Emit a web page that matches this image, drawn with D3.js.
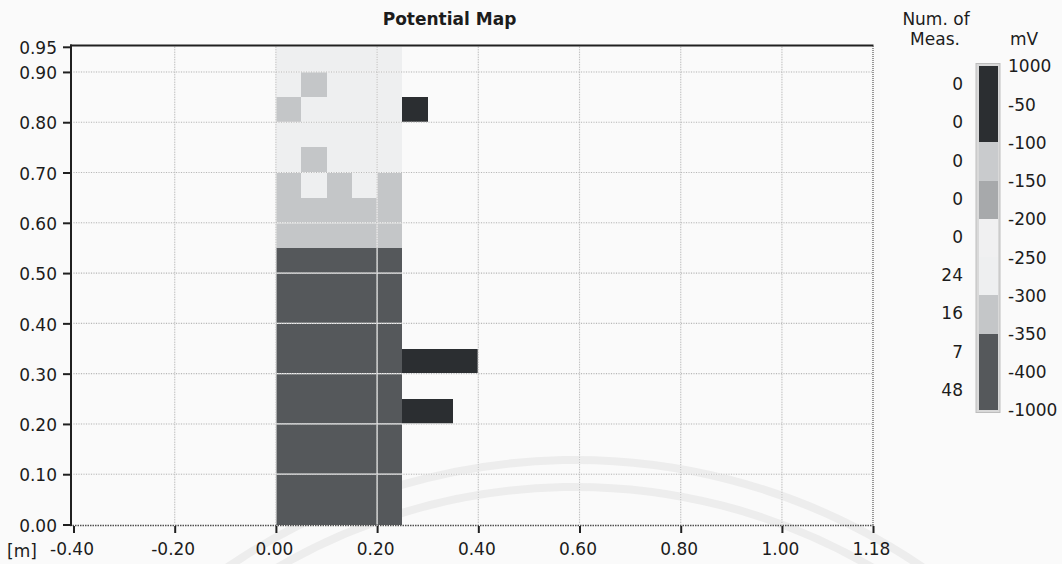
<!DOCTYPE html>
<html>
<head>
<meta charset="utf-8">
<script src="https://cdn.jsdelivr.net/npm/d3@7"></script>
<style>
  html, body { margin: 0; padding: 0; background: #fafafa; }
  svg { display: block; }
  text { font-family: "DejaVu Sans", Verdana, sans-serif; fill: #1c1c1c; }
</style>
</head>
<body>
<svg id="chart" width="1062" height="564"></svg>
<script>
// ---- measurement grid (metres) ----
const cellSize = 0.05;
const cellX = [0.00, 0.05, 0.10, 0.15, 0.20];               // left edge of each column
const cellY = [0.90, 0.85, 0.80, 0.75, 0.70, 0.65, 0.60, 0.55, 0.50,
               0.45, 0.40, 0.35, 0.30, 0.25, 0.20, 0.15, 0.10, 0.05, 0.00]; // bottom edge of each row

// potential in mV, one row per cellY entry, one column per cellX entry
const potential = [
  [-275, -275, -275, -275, -275],
  [-275, -325, -275, -275, -275],
  [-325, -275, -275, -275, -275],
  [-275, -275, -275, -275, -275],
  [-275, -325, -275, -275, -275],
  [-325, -275, -325, -275, -325],
  [-325, -325, -325, -325, -325],
  [-325, -325, -325, -325, -325],
  [-375, -375, -375, -375, -375],
  [-375, -375, -450, -450, -450],
  [-450, -450, -450, -450, -450],
  [-450, -450, -450, -450, -450],
  [-450, -450, -450, -450, -450],
  [-450, -450, -450, -450, -450],
  [-450, -450, -450, -450, -450],
  [-450, -450, -450, -450, -450],
  [-450, -450, -450, -450, -450],
  [-450, -450, -450, -450, -450],
  [-450, -450, -450, -450, -450]
];

// separate readings beside the grid
const extraX0 = [0.25, 0.25, 0.25];
const extraX1 = [0.30, 0.40, 0.35];
const extraY  = [0.80, 0.30, 0.20];
const extraV  = [-30, -30, -80];

// ---- colour classes ----
const classEdges  = [-400, -350, -300, -250, -200, -150, -100, -50];   // ascending thresholds
const classColors = ["#55585b", "#55585b", "#c4c6c8", "#eeeff0", "#f0f0f1",
                     "#a7a9ab", "#c9cbcd", "#2b2e31", "#2b2e31"];
const legendLabels = ["1000", "-50", "-100", "-150", "-200", "-250", "-300", "-350", "-400", "-1000"];

// ---- axis ticks ----
const xTicks = [-0.40, -0.20, 0.00, 0.20, 0.40, 0.60, 0.80, 1.00, 1.18];
const yTicks = [0.00, 0.10, 0.20, 0.30, 0.40, 0.50, 0.60, 0.70, 0.80, 0.90, 0.95];
const xGrid  = [-0.20, 0.00, 0.20, 0.40, 0.60, 0.80, 1.00];
const yGrid  = [0.10, 0.20, 0.30, 0.40, 0.50, 0.60, 0.70, 0.80, 0.90];

const svg = d3.select("#chart");

const x = d3.scaleLinear().domain([-0.40, 1.18]).range([73.5, 873]);
const y = d3.scaleLinear().domain([0, 0.95]).range([524.5, 46.8]);
const color = d3.scaleThreshold().domain(classEdges).range(classColors);

// faint paper watermark
const wm = svg.append("g").attr("fill", "none").attr("stroke", "#ededed").attr("stroke-width", 8);
[617, 590].forEach(r => {
  wm.append("path").attr("d", d3.arc()({
    innerRadius: r, outerRadius: r, startAngle: -Math.PI / 2.8, endAngle: Math.PI / 2.9
  })).attr("transform", "translate(575,1077)");
});

// grid cells
const cells = [];
cellY.forEach((cy, i) => cellX.forEach((cx, j) => cells.push({ x0: cx, y0: cy, v: potential[i][j] })));

svg.append("g").attr("shape-rendering", "crispEdges")
  .selectAll("rect").data(cells).join("rect")
  .attr("x", d => x(d.x0))
  .attr("y", d => y(d.y0 + cellSize))
  .attr("width", d => x(d.x0 + cellSize) - x(d.x0))
  .attr("height", d => y(d.y0) - y(d.y0 + cellSize))
  .attr("fill", d => color(d.v));

svg.append("g").attr("shape-rendering", "crispEdges")
  .selectAll("rect").data(extraV.map((v, i) => ({ v, i }))).join("rect")
  .attr("x", d => x(extraX0[d.i]))
  .attr("y", d => y(extraY[d.i] + cellSize))
  .attr("width", d => x(extraX1[d.i]) - x(extraX0[d.i]))
  .attr("height", d => y(extraY[d.i]) - y(extraY[d.i] + cellSize))
  .attr("fill", d => color(d.v));

// gridlines: light base with grey dots, so they read dotted on white and light on dark cells
const grid = svg.append("g");
function gridLines(sel) {
  sel.selectAll(".gx").data(xGrid).join("line").attr("class", "gx")
    .attr("x1", d => x(d)).attr("x2", d => x(d)).attr("y1", y(0.95)).attr("y2", y(0));
  sel.selectAll(".gy").data(yGrid).join("line").attr("class", "gy")
    .attr("y1", d => y(d)).attr("y2", d => y(d)).attr("x1", x(-0.40)).attr("x2", x(1.18));
}
grid.append("g").attr("stroke", "#f2f2f2").attr("stroke-width", 1.2).call(gridLines);
grid.append("g").attr("stroke", "#b8b8b8").attr("stroke-width", 1.1).attr("stroke-dasharray", "1,1.5").call(gridLines);

// frame
svg.append("line").attr("x1", 70).attr("x2", 873.5).attr("y1", 45.5).attr("y2", 45.5)
  .attr("stroke", "#202020").attr("stroke-width", 2);
svg.append("line").attr("x1", 873).attr("x2", 873).attr("y1", 46).attr("y2", 525)
  .attr("stroke", "#555").attr("stroke-width", 1.2).attr("stroke-dasharray", "1,1");
svg.append("line").attr("x1", 70).attr("x2", 873.5).attr("y1", 525.5).attr("y2", 525.5)
  .attr("stroke", "#505050").attr("stroke-width", 1.5).attr("stroke-dasharray", "1.5,1");
svg.append("line").attr("x1", 71).attr("x2", 71).attr("y1", 44.5).attr("y2", 526)
  .attr("stroke", "#202020").attr("stroke-width", 2);

// axes
const fmt = d => d.toFixed(2);
const yAxis = svg.append("g").attr("transform", "translate(70,0)")
  .call(d3.axisLeft(y).tickValues(yTicks).tickFormat(fmt).tickSize(7).tickPadding(6));
yAxis.select(".domain").remove();
yAxis.selectAll(".tick line").attr("stroke", "#202020").attr("stroke-width", 2);
yAxis.selectAll(".tick text").attr("font-size", 17).attr("dy", "0.39em")
  .attr("font-family", "DejaVu Sans").attr("fill", "#1c1c1c");

const xAxis = svg.append("g").attr("transform", "translate(0,526)")
  .call(d3.axisBottom(x).tickValues(xTicks).tickFormat(fmt).tickSize(7).tickPadding(10));
xAxis.select(".domain").remove();
xAxis.selectAll(".tick line").attr("stroke", "#202020").attr("stroke-width", 2);
xAxis.selectAll(".tick text").attr("font-size", 17).attr("dx", -2)
  .attr("font-family", "DejaVu Sans").attr("fill", "#1c1c1c");

svg.append("text").attr("x", 7).attr("y", 556.5).attr("font-size", 17).text("[m]");

// title
svg.append("text").attr("x", 449.5).attr("y", 25).attr("text-anchor", "middle")
  .attr("font-size", 17).attr("font-weight", "bold").text("Potential Map");

// ---- legend ----
const yl = d3.scaleLinear().domain([0, legendLabels.length - 1]).range([66, 410]);
// number of grid cells falling in each class, listed top (highest) to bottom
const counts = d3.range(legendLabels.length - 1).map(k => {
  const cls = classColors.length - 1 - k;
  return cells.filter(c => d3.bisectRight(classEdges, c.v) === cls).length;
});

const leg = svg.append("g");
leg.append("rect").attr("x", 976).attr("y", yl(0) - 2.5).attr("width", 24).attr("height", yl(9) - yl(0) + 5)
  .attr("fill", "#d9d9d9").attr("stroke", "#bdbdbd").attr("stroke-width", 1);
leg.append("g").attr("shape-rendering", "crispEdges")
  .selectAll(".seg").data(d3.range(legendLabels.length - 1)).join("rect").attr("class", "seg")
  .attr("x", 978.5).attr("width", 19)
  .attr("y", k => yl(k)).attr("height", k => yl(k + 1) - yl(k))
  .attr("fill", k => classColors[classColors.length - 1 - k]);

leg.selectAll(".lab").data(legendLabels).join("text").attr("class", "lab")
  .attr("x", 1008).attr("y", (d, i) => yl(i)).attr("dy", "0.38em").attr("font-size", 17).text(d => d);

leg.selectAll(".cnt").data(counts).join("text").attr("class", "cnt")
  .attr("x", 963).attr("y", (d, i) => (yl(i) + yl(i + 1)) / 2 - 1.5).attr("dy", "0.38em")
  .attr("text-anchor", "end").attr("font-size", 17).text(d => d);

leg.append("text").attr("x", 936).attr("y", 25).attr("text-anchor", "middle").attr("font-size", 17).text("Num. of");
leg.append("text").attr("x", 935).attr("y", 45).attr("text-anchor", "middle").attr("font-size", 17).text("Meas.");
leg.append("text").attr("x", 1010).attr("y", 45).attr("font-size", 17).text("mV");
</script>
</body>
</html>
